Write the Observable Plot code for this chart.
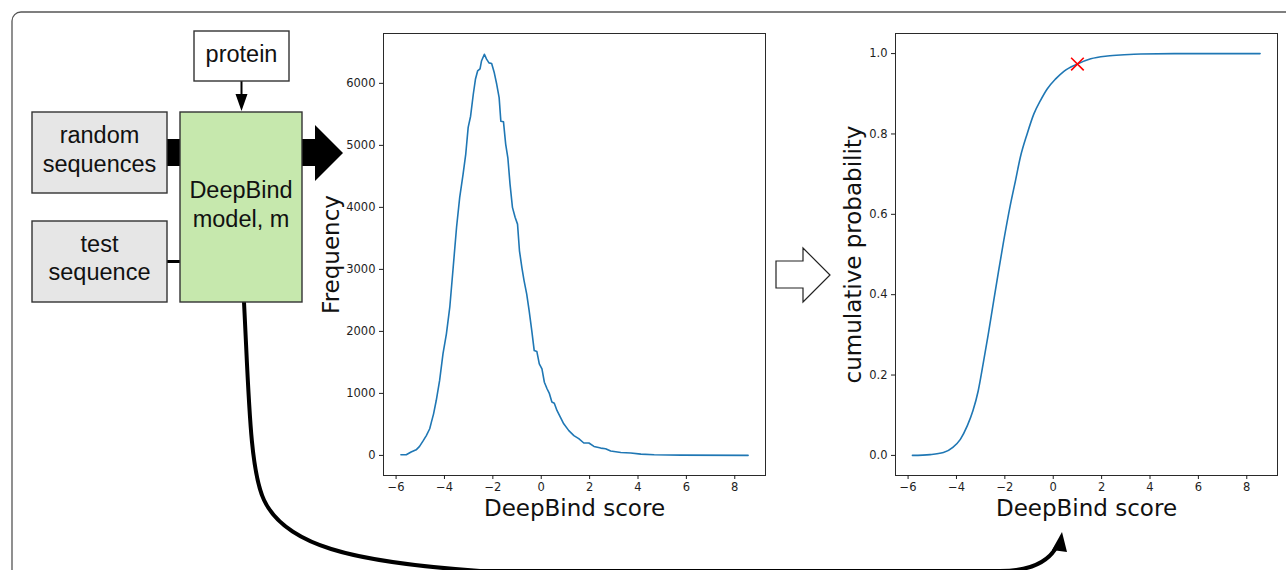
<!DOCTYPE html>
<html>
<head>
<meta charset="utf-8">
<script src="https://cdn.jsdelivr.net/npm/d3@7"></script>
<script src="https://cdn.jsdelivr.net/npm/@observablehq/plot@0.6"></script>
<style>
  html, body { margin: 0; padding: 0; background: #fff; }
  #wrap { position: relative; width: 1286px; height: 570px; overflow: hidden; background: #fff; }
  #hist, #cdf, #diagram { position: absolute; top: 0; }
  #hist { left: 300px; }
  #cdf { left: 780px; }
  #diagram { left: 0; pointer-events: none; }
</style>
</head>
<body>
<div id="wrap">
  <div id="hist"></div>
  <div id="cdf"></div>
  <svg id="diagram" width="1286" height="570"></svg>
</div>
<script>
// ---------------- data ----------------
const histScore = [-5.8,-5.58,-5.38,-5.17,-5.03,-4.89,-4.75,-4.61,-4.54,-4.45,-4.34,-4.2,-4.06,-3.92,-3.78,-3.64,-3.5,-3.37,-3.23,-3.12,-3.02,-2.92,-2.81,-2.72,-2.63,-2.53,-2.47,-2.35,-2.26,-2.16,-2.05,-1.94,-1.84,-1.74,-1.67,-1.56,-1.47,-1.38,-1.29,-1.19,-1.08,-0.98,-0.9,-0.8,-0.71,-0.6,-0.5,-0.39,-0.29,-0.18,-0.08,0.03,0.13,0.24,0.33,0.44,0.54,0.65,0.79,0.93,1.14,1.35,1.55,1.76,1.97,2.18,2.46,2.66,2.87,3.29,3.7,4.12,4.67,5.78,8.55];
const histFreq  = [10,10,54,90,145,230,320,430,537,670,885,1210,1640,1960,2390,3030,3680,4160,4535,4860,5290,5470,5820,6065,6200,6235,6360,6470,6390,6330,6320,6170,5985,5770,5390,5380,5020,4800,4375,4000,3840,3730,3300,3030,2820,2600,2335,2010,1690,1675,1475,1395,1180,1075,1005,860,840,725,617,510,400,320,270,200,200,145,118,107,70,48,38,21,10,5,0];

const cdfScore = [-5.82,-5.09,-4.54,-4.15,-3.84,-3.55,-3.32,-3.1,-2.9,-2.69,-2.48,-2.27,-2.05,-1.77,-1.56,-1.36,-1.08,-0.8,-0.53,-0.25,0.1,0.44,1.0,1.55,2.24,2.93,3.62,5.0,8.55];
const cdfProb  = [0,0.002,0.007,0.02,0.04,0.074,0.111,0.161,0.227,0.30,0.378,0.455,0.533,0.624,0.684,0.742,0.80,0.85,0.883,0.912,0.937,0.956,0.974,0.987,0.994,0.997,0.999,1.0,1.0];

const testScore = [1.0];
const testProb = [0.974];

const xTicks = [-6,-4,-2,0,2,4,6,8];
const histTicks = [0,1000,2000,3000,4000,5000,6000];
const cdfTicks = [0,0.2,0.4,0.6,0.8,1.0];

const xLabel = "DeepBind score";
const histYLabel = "Frequency";
const cdfYLabel = "cumulative probability";

// ---------------- charts ----------------
const histData = histScore.map((s, i) => ({score: s, freq: histFreq[i]}));
const cdfData = cdfScore.map((s, i) => ({score: s, prob: cdfProb[i]}));
const testData = testScore.map((s, i) => ({score: s, prob: testProb[i]}));

const common = {
  height: 540,
  marginTop: 33,
  marginBottom: 65,
  style: {background: "transparent", fontFamily: "DejaVu Sans", fontSize: "11px", color: "#1e1e1e", overflow: "visible"}
};
const xScale = {domain: [-6.52, 9.27]};
const labelStyle = {fontSize: 23, fill: "#111", fontFamily: "DejaVu Sans", textAnchor: "middle", lineAnchor: "middle", text: d => d};

const hist = Plot.plot({
  ...common,
  width: 480,
  marginLeft: 83,
  marginRight: 15,
  x: xScale,
  y: {domain: [-324, 6804]},
  marks: [
    Plot.frame({stroke: "#2a2a2a", strokeWidth: 1}),
    Plot.axisX({ticks: xTicks, tickSize: 4, tickPadding: 3, label: null, fontSize: 11.5}),
    Plot.axisY({ticks: histTicks, tickSize: 4, tickPadding: 4, label: null, fontSize: 11.5, tickFormat: d3.format("d")}),
    Plot.line(histData, {x: "score", y: "freq", stroke: "#1f77b4", strokeWidth: 1.6}),
    Plot.text([histYLabel], {...labelStyle, frameAnchor: "left", dx: -52, rotate: -90}),
    Plot.text([xLabel], {...labelStyle, frameAnchor: "bottom", dy: 33})
  ]
});
document.getElementById("hist").appendChild(hist);

const cdf = Plot.plot({
  ...common,
  width: 506,
  marginLeft: 115,
  marginRight: 9,
  x: xScale,
  y: {domain: [-0.05, 1.05]},
  marks: [
    Plot.frame({stroke: "#2a2a2a", strokeWidth: 1}),
    Plot.axisX({ticks: xTicks, tickSize: 4, tickPadding: 3, label: null, fontSize: 11.5}),
    Plot.axisY({ticks: cdfTicks, tickSize: 4, tickPadding: 4, label: null, fontSize: 11.5, tickFormat: d3.format(".1f")}),
    Plot.line(cdfData, {x: "score", y: "prob", stroke: "#1f77b4", strokeWidth: 1.6, curve: "monotone-x"}),
    Plot.dot(testData, {x: "score", y: "prob", symbol: "times", r: 5.8, stroke: "red", strokeWidth: 1.6}),
    Plot.text([cdfYLabel], {...labelStyle, frameAnchor: "left", dx: -42, rotate: -90}),
    Plot.text([xLabel], {...labelStyle, frameAnchor: "bottom", dy: 33})
  ]
});
document.getElementById("cdf").appendChild(cdf);

// ---------------- diagram (layout) ----------------
const svg = d3.select("#diagram");
const font = "Liberation Sans, Arial, sans-serif";

svg.append("rect").attr("x", 12).attr("y", 12).attr("width", 1300).attr("height", 600)
  .attr("rx", 9).attr("fill", "none").attr("stroke", "#555").attr("stroke-width", 1.3);

// bottom curve
svg.append("path")
  .attr("d", "M244,302 C249,400 250,470 264,500 C285,545 350,562 480,571 L1000,571 C1030,571 1048,563 1057,546")
  .attr("fill", "none").attr("stroke", "#000").attr("stroke-width", 4);
svg.append("polygon").attr("points", "1062,532 1052,550 1067,552").attr("fill", "#000");

// connectors
svg.append("rect").attr("x", 166).attr("y", 139).attr("width", 15).attr("height", 27).attr("fill", "#000");
svg.append("line").attr("x1", 166).attr("x2", 181).attr("y1", 261.5).attr("y2", 261.5)
  .attr("stroke", "#000").attr("stroke-width", 3);
svg.append("polygon").attr("points", "302,139 315,139 315,125 343,153 315,181 315,166 302,166").attr("fill", "#000");
svg.append("line").attr("x1", 241.5).attr("x2", 241.5).attr("y1", 81).attr("y2", 97)
  .attr("stroke", "#000").attr("stroke-width", 2);
svg.append("polygon").attr("points", "235.5,94 247.5,94 241.5,111").attr("fill", "#000");

// hollow arrow
svg.append("polygon").attr("points", "776,261 803,261 803,248 830,275 803,302 803,288 776,288")
  .attr("fill", "#fff").attr("stroke", "#222").attr("stroke-width", 1.2);

// boxes
const boxes = [
  {x: 194, y: 31, w: 95, h: 50, fill: "#fff", lines: ["protein"], cx: 241.5, base: [62]},
  {x: 32, y: 112, w: 135, h: 81, fill: "#e6e6e6", lines: ["random", "sequences"], cx: 99.5, base: [143, 172]},
  {x: 32, y: 221, w: 135, h: 81, fill: "#e6e6e6", lines: ["test", "sequence"], cx: 99.5, base: [252, 280]},
  {x: 180, y: 112, w: 122, h: 190, fill: "#c6e8ad", lines: ["DeepBind", "model, m"], cx: 241, base: [198, 227]}
];
for (const b of boxes) {
  svg.append("rect").attr("x", b.x).attr("y", b.y).attr("width", b.w).attr("height", b.h)
    .attr("fill", b.fill).attr("stroke", "#333").attr("stroke-width", 1.4);
  b.lines.forEach((t, i) => {
    svg.append("text").attr("x", b.cx).attr("y", b.base[i]).attr("text-anchor", "middle")
      .attr("font-family", font).attr("font-size", 23.5).attr("fill", "#111").text(t);
  });
}
</script>
</body>
</html>
